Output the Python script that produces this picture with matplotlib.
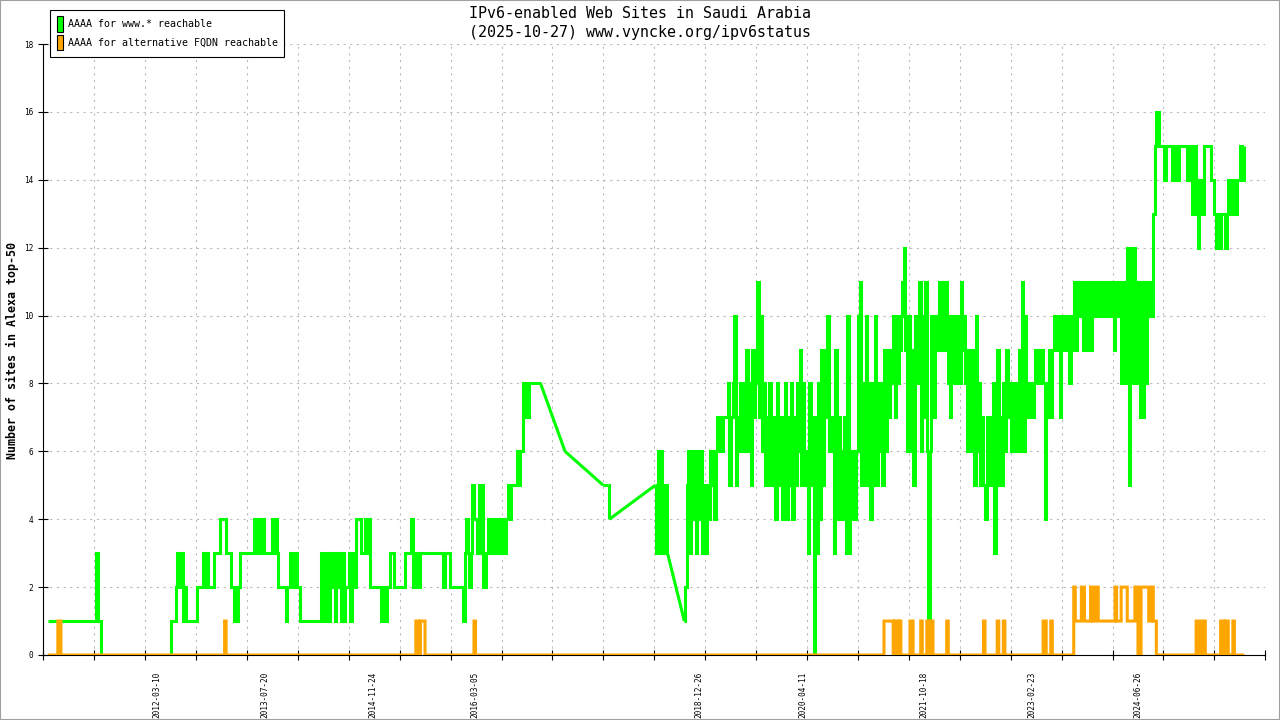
import numpy as np
import matplotlib
matplotlib.use("Agg")
import matplotlib.pyplot as plt
import matplotlib.dates as mdates
from matplotlib.patches import Patch, Rectangle
from matplotlib.ticker import FixedLocator, NullFormatter, FixedFormatter

nan = float("nan")

# ---- data: weekly samples starting at SERIES_START (nan = no measurement) ----
SERIES_START = "2010-10-29"

www_reachable = (
    [1] * 7 + [0] + [1] * 24 + [3, 1, 1] + [0] * 46
    + [1, 1, 1, 2, 3, 2, 3, 3, 1, 2, 1] + [1] * 6
    + [2, 2, 2, 2, 3, 2, 3, 2] + [2] * 3 + [3] * 4 + [4] * 4 + [3] * 3
    + [2, 2, 1, 2, 1, 2, 3] + [3] * 8 + [4, 3, 4, 3, 4, 3, 4, 3] + [3] * 4
    + [4, 3, 4, 3] + [2] * 5 + [1, 2, 2, 3, 3, 2, 3, 2, 2] + [1] * 14
    + [3, 2, 1, 3, 2, 1, 3, 2, 3, 1, 3, 2, 3, 1, 3, 1, 2, 2, 3, 1, 2, 3, 2]
    + [4, 4, 4, 3, 3, 3, 4, 3, 4, 2] + [2] * 6 + [1, 2, 2, 1, 2, 2] + [3] * 3
    + [2] * 7 + [3] * 4 + [4, 2, 3, 2, 3, 2, 3] + [3] * 14 + [2, 3, 3, 3]
    + [2] * 9
    + [1, 3, 4, 3, 2, 3, 5, 4, 4, 3, 5, 3, 5, 2, 2, 3, 4, 3, 4, 3, 4, 3, 4, 3, 4, 3, 4, 3, 4]
    + [5, 4, 5, 5, 5, 5, 6, 5, 6, 6] + [8, 7, 8, 7, 8] + [8] * 7
    + [nan] * 15 + [6] + [nan] * 24 + [5] + [nan] * 2 + [5, 4] + [nan] * 29
    + [5, 3, 6, 3, 6, 4, 3, 5, 3] + [nan] * 10 + [1, 2, 5]
    + [6, 3, 6, 4, 6, 3, 6, 4, 6, 3, 5, 3, 5, 4, 6, 5, 6, 4, 6, 7, 6, 7, 6, 7, 7, 7, 8, 5, 7, 8]
    + [10, 5, 7, 6, 8, 6, 8, 6, 9, 6, 8, 5, 9, 7, 8, 11, 7, 10, 6, 8, 5, 7, 5, 8, 6, 5, 7, 4, 8, 5]
    + [7, 4, 6, 8, 4, 7, 5, 8, 4, 7, 5, 8, 6, 9, 5, 8, 6, 5, 3, 8, 5, 7, 0, 7, 3, 8, 4, 9, 5, 7]
    + [9, 10, 6, 7, 6, 3, 9, 4, 7, 4, 6, 4, 7, 3, 10, 3, 6, 4, 6, 4, 6, 10, 11, 5, 8, 5, 10, 5, 8, 4]
    + [8, 5, 10, 5, 8, 6, 8, 5, 9, 6, 9, 7, 9, 8, 10, 7, 10, 8, 9, 10, 11, 12, 9, 6, 10, 6, 9, 5, 10, 8]
    + [10, 11, 6, 10, 7, 11, 6, 0, 6, 10, 7, 9, 10, 9, 11, 9, 11, 9, 11, 10, 8, 7, 10, 8, 10, 8, 10, 8, 11, 9]
    + [10, 8, 6, 9, 6, 9, 7, 5, 10, 6, 8, 5, 7, 5, 4, 7, 5, 7, 5, 8, 3, 7, 9, 5, 7, 5, 8, 6, 9, 7]
    + [8, 6, 8, 6, 8, 6, 9, 6, 11, 6, 10, 7, 8, 7, 8, 7, 8, 9, 8, 9, 8, 9, 8, 4, 8, 7, 9, 7, 9, 10]
    + [9, 10, 9, 7, 10, 9, 10, 9, 10, 8, 10, 9, 11, 9, 11, 10, 11, 10, 9, 11, 10, 9, 11, 9, 11, 10, 11, 10, 11, 10]
    + [11, 10, 11, 10, 11, 10, 11, 10, 9, 11, 10, 11, 10, 8, 11, 8, 11, 12, 5, 12, 8, 12, 8, 11, 8, 7, 11, 7, 11, 8]
    + [11, 10, 11, 10, 13, 15, 16, 16, 15, 15, 15, 14, 15, 15, 15, 15, 14, 15, 14, 15, 14, 15, 15, 15, 15, 15, 14, 14, 15, 13]
    + [13, 15, 14, 12, 13, 14, 13, 15, 15, 15, 15, 15, 14, 14, 13, 12, 13, 12, 13, 13, 13, 12, 13, 14, 13, 14, 13, 14, 13, 14, 14, 15, 14, 15]
)

alt_fqdn_reachable = (
    [0] * 7 + [1, 1] + [0] * 107 + [1] + [0] * 124 + [1, 1, 0, 1, 1, 1]
    + [0] * 32 + [1] + [0] * 267 + [1] * 6 + [0, 1, 1, 0, 1] + [0] * 6
    + [1, 1] + [0] * 5 + [1] + [0] * 3 + [1, 0, 1, 1] + [0] * 9 + [1]
    + [0] * 23 + [1] + [0] * 8 + [1] + [0] * 3 + [1] + [0] * 25 + [1, 1]
    + [0] * 3 + [1] + [0] * 14 + [2] + [1] * 4 + [2, 2] + [1] * 4 + [2]
    + [1, 1] + [2, 2] + [1] * 11 + [2] + [1] * 3 + [2] * 4 + [1] * 5 + [2, 2]
    + [0, 0] + [2] * 5 + [1, 1] + [2] + [1, 1] + [0] * 26 + [1, 1] + [0, 0]
    + [1, 1] + [0] * 10 + [1, 1] + [0] + [1, 1] + [0] * 3 + [1] + [0] * 7
)

tick_label_dates = ["2012-03-10", "2013-07-20", "2014-11-24", "2016-03-05",
                    "2018-12-26", "2020-04-11", "2021-10-18", "2023-02-23",
                    "2024-06-26"]

series_names = ["AAAA for www.* reachable", "AAAA for alternative FQDN reachable"]
series_colors = ["#00ff00", "#ffa500"]
title_lines = ["IPv6-enabled Web Sites in Saudi Arabia",
               "(2025-10-27) www.vyncke.org/ipv6status"]
y_label = "Number of sites in Alexa top-50"

# ---- figure ----
MONO = "DejaVu Sans Mono"
LW = 2.2
fig = plt.figure(figsize=(12.8, 7.2), dpi=100)
fig.patch.set_facecolor("white")
ax = fig.add_axes([43.3 / 1280, 65 / 720, 1222 / 1280, 611 / 720])

g = np.array(www_reachable, dtype=float)
o = np.array(alt_fqdn_reachable, dtype=float)
start = np.datetime64(SERIES_START)
g_dates = mdates.date2num(start + np.arange(len(g)) * np.timedelta64(7, "D"))
o_dates = mdates.date2num(start + np.arange(len(o)) * np.timedelta64(7, "D"))

# contiguous runs of measurements drawn as steps; missing periods bridged by straight lines
idx = np.where(~np.isnan(g))[0]
breaks = np.where(np.diff(idx) > 1)[0]
runs = np.split(idx, breaks + 1)
for k, r in enumerate(runs):
    ax.plot(g_dates[r], g[r], color=series_colors[0], lw=LW,
            drawstyle="steps-mid", solid_joinstyle="miter",
            solid_capstyle="butt", zorder=3)
    if k + 1 < len(runs):
        a, b = r[-1], runs[k + 1][0]
        ax.plot([g_dates[a], g_dates[b]], [g[a], g[b]],
                color=series_colors[0], lw=LW, solid_capstyle="butt",
                zorder=3)

ax.plot(o_dates, o, color=series_colors[1], lw=LW, drawstyle="steps-mid",
        solid_joinstyle="miter", solid_capstyle="butt", zorder=4)

xmin = np.datetime64("2010-10-08")
xmax = np.datetime64("2026-01-28")
x0 = mdates.date2num(xmin)
x1 = mdates.date2num(xmax)
ax.set_xlim(x0, x1)
ax.set_ylim(0, 18)

ax.xaxis.set_major_locator(FixedLocator(np.linspace(x0, x1, 25)))
ax.xaxis.set_major_formatter(NullFormatter())
lab_pos = [mdates.date2num(np.datetime64(d)) for d in tick_label_dates]
ax.xaxis.set_minor_locator(FixedLocator(lab_pos))
ax.xaxis.set_minor_formatter(FixedFormatter(tick_label_dates))

ax.set_yticks(np.arange(0, 19, 2))

ax.tick_params(axis="x", which="major", direction="inout", length=6.5,
               width=0.8, color="black")
ax.tick_params(axis="x", which="minor", length=0, pad=12, labelsize=5.6,
               labelrotation=90)
ax.tick_params(axis="y", which="major", direction="inout", length=7,
               width=0.8, labelsize=5.6, pad=4)
for lab in ax.get_xticklabels(minor=True) + ax.get_yticklabels():
    lab.set_family(MONO)

for s in ["top", "right"]:
    ax.spines[s].set_visible(False)
for s in ["left", "bottom"]:
    ax.spines[s].set_linewidth(0.8)
    ax.spines[s].set_color("black")

ax.grid(True, which="major", axis="both", color="#bbbbbb",
        linestyle=(0, (2, 4)), linewidth=0.8)
ax.set_axisbelow(True)

fig.text(0.5, 1 - 13 / 720, title_lines[0], ha="center", va="center",
         family=MONO, fontsize=10.8)
fig.text(0.5, 1 - 32 / 720, title_lines[1], ha="center", va="center",
         family=MONO, fontsize=10.8)
fig.text(12.5 / 1280, 1 - 350 / 720, y_label, rotation=90, ha="center",
         va="center", family=MONO, fontsize=8.4, fontweight="bold")

handles = [Patch(facecolor=c, edgecolor="black", lw=0.8) for c in series_colors]
leg = fig.legend(handles, series_names, loc="upper left",
                 bbox_to_anchor=(50 / 1280, 1 - 10 / 720),
                 bbox_transform=fig.transFigure,
                 prop={"family": MONO, "size": 7.2}, frameon=True,
                 fancybox=False, edgecolor="black", framealpha=1,
                 borderpad=0.65, handlelength=0.6, handleheight=2.0,
                 handletextpad=0.5, labelspacing=0.3, borderaxespad=0)
leg.get_frame().set_linewidth(0.8)

fig.add_artist(Rectangle((0, 0), 1, 1, transform=fig.transFigure, fill=False,
                         edgecolor="#a0a0a0", lw=1.5))

fig.savefig("out.png", dpi=100)
